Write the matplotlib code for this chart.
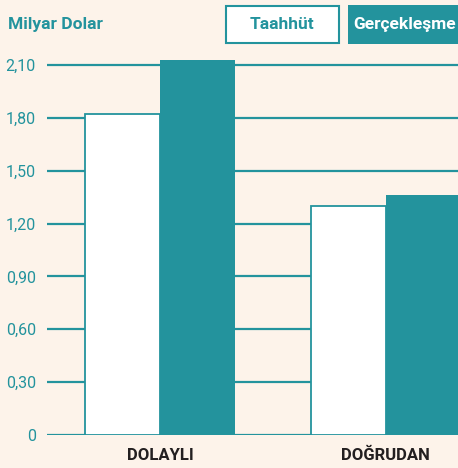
import matplotlib.pyplot as plt
from matplotlib.patches import Rectangle
import numpy as np

categories = ['DOLAYLI', 'DOĞRUDAN']
taahhut = [1.82, 1.30]
gerceklesme = [2.13, 1.36]
yticks = [0, 0.30, 0.60, 0.90, 1.20, 1.50, 1.80, 2.10]
ytick_labels = ['0', '0,30', '0,60', '0,90', '1,20', '1,50', '1,80', '2,10']

teal = '#23939d'
bg = '#fdf3ea'
dark = '#231f20'
plt.rcParams['font.family'] = ['Roboto', 'DejaVu Sans']

W, H = 458, 468
fig = plt.figure(figsize=(W / 100, H / 100), dpi=100, facecolor=bg)
ax = fig.add_axes([47 / W, (H - 435) / H, (W - 47) / W, 387.6 / H])
ax.set_facecolor(bg)

x = np.arange(len(categories))
w = 0.332
ax.bar(x - w / 2, taahhut, w, color='white', edgecolor=teal, linewidth=1.3, zorder=3)
ax.bar(x + w / 2, gerceklesme, w, color=teal, edgecolor=teal, linewidth=0, zorder=3)

ax.set_xlim(-0.5, 1.319)
ax.set_ylim(0, 2.2)
ax.set_yticks(yticks)
ax.set_yticklabels(ytick_labels, color=teal, fontsize=11.5)
ax.tick_params(axis='y', length=0, pad=8)
ax.tick_params(axis='x', length=0, pad=9)
ax.set_xticks(x)
ax.set_xticklabels(categories, color=dark, fontsize=12, fontweight='bold')
ax.yaxis.grid(True, color=teal, linewidth=1.6, zorder=1)
ax.set_axisbelow(True)
for s in ax.spines.values():
    s.set_visible(False)

fig.text(8 / W, 1 - 25 / H, 'Milyar Dolar', color=teal, fontsize=12.5,
         fontweight='bold', va='center', ha='left')

fig.patches.append(Rectangle((226 / W, 1 - 43 / H), 113 / W, 37 / H,
                             transform=fig.transFigure, facecolor='white',
                             edgecolor=teal, linewidth=1.5))
fig.text(282 / W, 1 - 24.5 / H, 'Taahhüt', color=teal, fontsize=12.5,
         fontweight='bold', va='center', ha='center')
fig.patches.append(Rectangle((348 / W, 1 - 44 / H), 112 / W, 39 / H,
                             transform=fig.transFigure, facecolor=teal,
                             edgecolor=teal, linewidth=0))
fig.text(405 / W, 1 - 24.5 / H, 'Gerçekleşme', color='white', fontsize=12.5,
         fontweight='bold', va='center', ha='center')

fig.savefig('out.png', dpi=100, facecolor=bg)
